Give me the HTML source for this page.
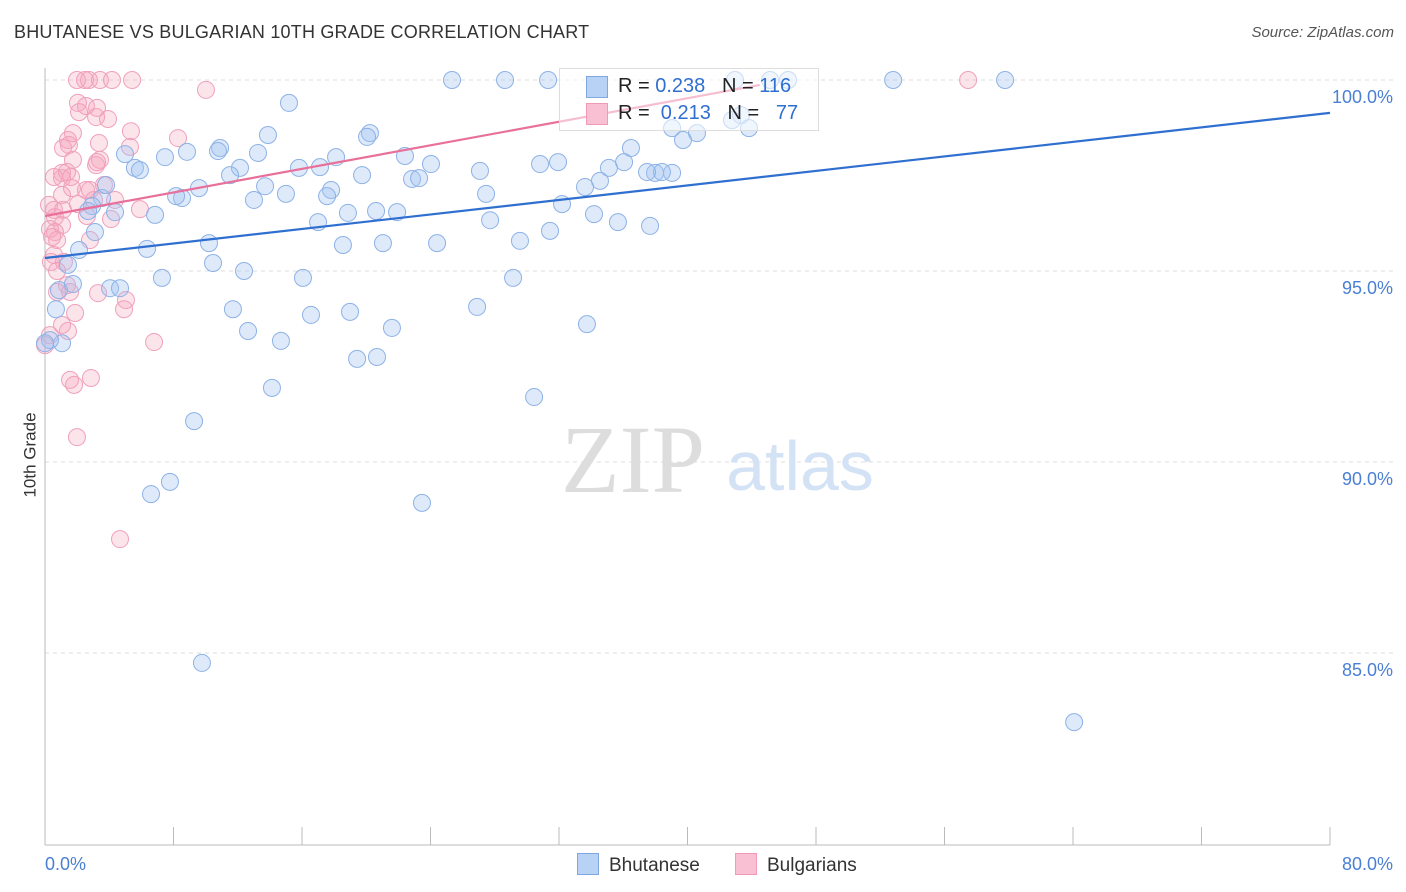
<!DOCTYPE html>
<html><head><meta charset="utf-8"><style>
body{margin:0;background:#fff;font-family:"Liberation Sans",sans-serif;}
#wrap{position:relative;width:1406px;height:892px;overflow:hidden;}
.t{position:absolute;white-space:nowrap;}
</style></head><body>
<div id="wrap">
<div class="t" style="left:14px;top:22px;font-size:18px;color:#333;letter-spacing:0.2px">BHUTANESE VS BULGARIAN 10TH GRADE CORRELATION CHART</div>
<div class="t" style="right:12px;top:24px;font-size:15px;color:#555;font-style:italic">Source: ZipAtlas.com</div>
<div class="t" style="left:-12px;top:445px;font-size:17px;color:#333;transform:rotate(-90deg)">10th Grade</div>
<svg id="svg" width="1406" height="892" style="position:absolute;left:0;top:0"></svg>
</div>
<script>
const blueX=[25.34,28.64,31.32,52.80,59.77,42.96,15.19,13.88,20.23,20.05,10.90,10.77,8.84,7.47,4.98,5.60,5.91,13.26,22.41,18.12,24.03,27.08,30.82,31.94,36.48,39.04,40.59,39.72,39.04,37.98,38.41,37.48,35.11,36.05,34.55,33.62,32.19,34.18,35.67,37.67,31.44,29.57,27.71,27.46,24.41,21.92,19.74,17.81,17.56,17.12,15.81,15.00,13.70,13.01,12.14,11.52,9.59,8.53,8.16,6.85,4.36,3.55,2.93,2.68,3.11,2.12,1.43,0.87,1.74,3.80,6.35,10.21,10.46,12.39,7.28,11.70,12.64,14.69,16.06,16.56,18.99,18.55,18.86,21.04,20.67,19.43,21.60,22.85,23.29,26.90,29.14,30.45,33.74,14.13,9.28,7.78,6.60,23.47,9.77,64.07,4.05,4.67,0.68,1.06,0.31,0,43.33,43.83,42.77,45.14,46.26,17.00,20.61];
const blueY=[100,100,100,100,100,100,99.40,98.56,98.61,98.51,98.22,98.14,98.12,97.98,98.06,97.70,97.64,98.09,98.01,97.98,97.80,97.62,97.80,97.85,98.22,98.74,98.61,98.43,97.57,97.57,97.59,97.59,97.70,97.85,97.36,97.20,96.75,96.49,96.28,96.18,96.05,95.79,96.33,97.02,95.73,96.54,97.51,97.12,96.96,97.72,97.70,97.02,97.22,96.86,97.70,97.51,97.17,96.91,96.96,96.47,96.54,96.91,96.70,96.57,96.02,95.55,95.16,94.50,94.66,97.25,95.58,95.73,95.21,95.00,94.82,94.00,93.43,93.17,94.82,93.85,93.93,95.68,96.52,95.73,92.75,92.70,93.51,97.41,97.43,94.06,94.82,91.70,93.61,91.94,91.07,89.48,89.16,88.93,84.74,83.19,94.55,94.55,94.00,93.11,93.19,93.11,99.08,98.74,98.95,100,100,96.28,96.57];
const pinkX=[1.99,2.74,3.42,4.17,5.42,2.49,10.02,57.47,2.05,2.55,3.24,2.12,3.92,3.18,1.74,1.43,1.12,1.49,5.35,5.29,3.36,3.42,3.18,3.24,1.74,1.06,1.37,1.06,1.62,0.56,1.68,2.80,3.67,2.55,1.06,0.25,0.56,1.12,2.61,3.05,4.36,0.62,1.06,0.31,0.62,0.44,0.75,2.80,2.05,0.56,0.37,1.18,0.75,1.37,0.75,1.56,3.30,5.04,4.92,1.87,1.06,1.43,0.31,6.79,0,1.56,1.81,2.86,1.99,4.67,5.91,8.28,4.11];
const pinkY=[100,100,100,100,100,100,99.74,100,99.40,99.32,99.27,99.16,98.98,99.03,98.61,98.43,98.22,98.30,98.66,98.25,98.35,97.91,97.77,97.85,97.91,97.57,97.59,97.43,97.46,97.46,97.17,97.12,97.25,97.12,96.99,96.73,96.60,96.60,96.44,96.86,96.86,96.41,96.20,96.10,96.02,95.89,95.81,95.81,96.75,95.42,95.24,95.24,95.00,94.63,94.45,94.45,94.42,94.24,94.00,93.90,93.59,93.43,93.32,93.14,93.06,92.15,92.02,92.20,90.65,87.98,96.62,98.48,96.36];
const blueTrendX=[0,80], blueTrendY=[95.34,99.14];
const pinkTrendX=[0,44.5], pinkTrendY=[96.44,99.87];
const yTicks=[100,95,90,85];
const yTickLabels=["100.0%","95.0%","90.0%","85.0%"];
const xTicks=[0,8,16,24,32,40,48,56,64,72,80];

const NS="http://www.w3.org/2000/svg";
const svg=document.getElementById('svg');
const X=v=>45+v/80*1285;
const Y=v=>80+(100-v)/5*191;
function mk(tag,attrs,parent){const e=document.createElementNS(NS,tag);for(const k in attrs)e.setAttribute(k,attrs[k]);(parent||svg).appendChild(e);return e;}

yTicks.forEach((v,i)=>{
  const g=mk('line',{x1:45,x2:1395,y1:Y(v),y2:Y(v),stroke:'#ddd','stroke-dasharray':'4,4'});
  
  
  const t=mk('text',{x:1393,y:Y(v)+23,'text-anchor':'end','font-size':18,fill:'#4a7fd4','font-family':'Liberation Sans, sans-serif'});
  t.textContent=yTickLabels[i];
  
  
});
const ax=mk('line',{x1:45,x2:1330,y1:845,y2:845,stroke:'#bbb'});


const ay=mk('line',{x1:45,x2:45,y1:68,y2:845,stroke:'#bbb'});


xTicks.forEach(v=>{
  const l=mk('line',{x1:X(v),x2:X(v),y1:827,y2:845,stroke:'#bbb'});
  
  
});
[['0.0%',45,'start'],['80.0%',1393,'end']].forEach(a=>{
  const t=mk('text',{x:a[1],y:870,'text-anchor':a[2],'font-size':18,fill:'#4a7fd4','font-family':'Liberation Sans, sans-serif'});
  t.textContent=a[0];
  
  
});
const w1=mk('text',{x:633,y:492,'text-anchor':'middle','font-size':96,fill:'#ddd','font-family':'Liberation Serif, serif'});
w1.textContent='ZIP';


const w2=mk('text',{x:800,y:490,'text-anchor':'middle','font-size':70,fill:'#d4e2f5','font-family':'Liberation Sans, sans-serif'});
w2.textContent='atlas';



pinkX.forEach((v,i)=>{
  const c=mk('circle',{cx:X(v),cy:Y(pinkY[i]),r:8.5,fill:'rgba(245,165,190,0.3)',stroke:'#f0a0bc','stroke-width':1});
  
  
});
blueX.forEach((v,i)=>{
  const c=mk('circle',{cx:X(v),cy:Y(blueY[i]),r:8.5,fill:'rgba(160,195,240,0.35)',stroke:'#8db2e6','stroke-width':1});
  
  
});
const bl=mk('line',{x1:X(blueTrendX[0]),y1:Y(blueTrendY[0]),x2:X(blueTrendX[1]),y2:Y(blueTrendY[1]),stroke:'#2f6fd0','stroke-width':2.2});


const pl=mk('line',{x1:X(pinkTrendX[0]),y1:Y(pinkTrendY[0]),x2:X(pinkTrendX[1]),y2:Y(pinkTrendY[1]),stroke:'#e8709a','stroke-width':2.2});


</script>
<div class="t" style="left:559px;top:68px;width:258px;height:61px;border:1px solid #ddd;background:rgba(255,255,255,0.55);font-size:20px;">
  <div style="position:absolute;left:26px;top:7px;width:20px;height:20px;background:#b8d2f5;border:1px solid #7fa8e0"></div>
  <div style="position:absolute;left:58px;top:6px;color:#222">R = <span style="color:#2f6fd0">0.238</span>&nbsp;&nbsp;&nbsp;N = <span style="color:#2f6fd0">116</span></div>
  <div style="position:absolute;left:26px;top:34px;width:20px;height:20px;background:#f8c0d2;border:1px solid #f09ab6"></div>
  <div style="position:absolute;left:58px;top:33px;color:#222">R = &nbsp;<span style="color:#2f6fd0">0.213</span>&nbsp;&nbsp;&nbsp;N = &nbsp;&nbsp;<span style="color:#2f6fd0">77</span></div>
</div>
<div class="t" style="left:577px;top:853px;font-size:19px;color:#333">
  <span style="display:inline-block;width:20px;height:20px;background:#b8d2f5;border:1px solid #7fa8e0;vertical-align:-4px;margin-right:10px"></span>Bhutanese</div>
<div class="t" style="left:735px;top:853px;font-size:19px;color:#333">
  <span style="display:inline-block;width:20px;height:20px;background:#f8c0d2;border:1px solid #f09ab6;vertical-align:-4px;margin-right:10px"></span>Bulgarians</div>
</body></html>
